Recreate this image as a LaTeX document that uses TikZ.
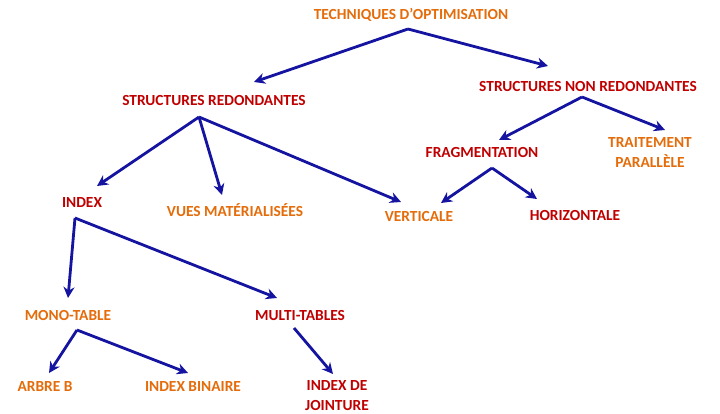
\documentclass[tikz,border=0pt]{standalone}
\usepackage{fontspec}
\setmainfont{Carlito}
\newfontfamily\lblfont{Carlito Bold}
\usetikzlibrary{arrows.meta,calc}
\definecolor{lblorange}{RGB}{228,108,10}
\definecolor{lblred}{RGB}{192,0,0}
\definecolor{linkblue}{RGB}{20,20,160}
\tikzset{
  lbl/.style={font=\lblfont\fontsize{15.4}{20}\selectfont, inner sep=0pt, align=center},
  orangelbl/.style={lbl, text=lblorange},
  redlbl/.style={lbl, text=lblred},
  link/.style={draw=linkblue, line width=2.8pt, line join=miter,
    -{Stealth[length=11pt, width=11pt, inset=3.5pt]}},
}
\begin{document}
\begin{tikzpicture}[x=1pt, y=-1pt]
  \useasboundingbox (0,0) rectangle (720,414);

  % labels
  \node[orangelbl] (tech) at (411,15) {TECHNIQUES D’OPTIMISATION};
  \node[redlbl] (sr)   at (214,101) {STRUCTURES REDONDANTES};
  \node[redlbl] (snr)  at (588,87)  {STRUCTURES NON REDONDANTES};
  \node[redlbl] (frag) at (482,153) {FRAGMENTATION};
  \node[orangelbl] (trait) at (650,153) {TRAITEMENT\\PARALLÈLE};
  \node[redlbl] (idx)  at (82,203)  {INDEX};
  \node[orangelbl] (vues) at (235,210) {VUES MATÉRIALISÉES};
  \node[orangelbl] (vert) at (419,217) {VERTICALE};
  \node[redlbl] (hor)  at (575,216) {HORIZONTALE};
  \node[orangelbl] (mono) at (68,316) {MONO-TABLE};
  \node[redlbl] (multi) at (300,316) {MULTI-TABLES};
  \node[orangelbl] (arb) at (45,387) {ARBRE B};
  \node[orangelbl] (ibin) at (193,387) {INDEX BINAIRE};
  \node[redlbl] (ijoin) at (337,396) {INDEX DE\\JOINTURE};

  % fork points below each parent
  \coordinate (tech-f)  at ($(tech)+(-3,14)$);
  \coordinate (sr-f)    at ($(sr)+(-15,16)$);
  \coordinate (snr-f)   at ($(snr)+(-6,10)$);
  \coordinate (frag-f)  at ($(frag)+(10,15)$);
  \coordinate (idx-f)   at ($(idx)+(-7,15)$);
  \coordinate (mono-f)  at ($(mono)+(9,14)$);
  \coordinate (multi-f) at ($(multi)+(-6,12)$);

  % arrow tips above each child
  \coordinate (sr-t)    at ($(sr)+(40,-19)$);
  \coordinate (snr-t)   at ($(snr)+(-40,-21)$);
  \coordinate (frag-t)  at ($(frag)+(17,-13)$);
  \coordinate (trait-t) at ($(trait)+(15,-23)$);
  \coordinate (idx-t)   at ($(idx)+(15,-17)$);
  \coordinate (vues-t)  at ($(vues)+(-13,-15)$);
  \coordinate (vert-t1) at ($(vert)+(-18,-15)$);
  \coordinate (vert-t2) at ($(vert)+(22,-14)$);
  \coordinate (hor-t)   at ($(hor)+(-38,-17)$);
  \coordinate (mono-t)  at ($(mono)+(0,-18)$);
  \coordinate (multi-t) at ($(multi)+(-23,-18)$);
  \coordinate (arb-t)   at ($(arb)+(4,-14)$);
  \coordinate (ibin-t)  at ($(ibin)+(-5,-14)$);
  \coordinate (ijoin-t) at ($(ijoin)+(-4,-22)$);

  % connectors
  \draw[link] (tech-f) -- (sr-t);
  \draw[link] (tech-f) -- (snr-t);
  \draw[link] (sr-f) -- (idx-t);
  \draw[link] (sr-f) -- (vues-t);
  \draw[link] (sr-f) -- (vert-t1);
  \draw[link] (snr-f) -- (frag-t);
  \draw[link] (snr-f) -- (trait-t);
  \draw[link] (frag-f) -- (vert-t2);
  \draw[link] (frag-f) -- (hor-t);
  \draw[link] (idx-f) -- (mono-t);
  \draw[link] (idx-f) -- (multi-t);
  \draw[link] (mono-f) -- (arb-t);
  \draw[link] (mono-f) -- (ibin-t);
  \draw[link] (multi-f) -- (ijoin-t);
\end{tikzpicture}
\end{document}
